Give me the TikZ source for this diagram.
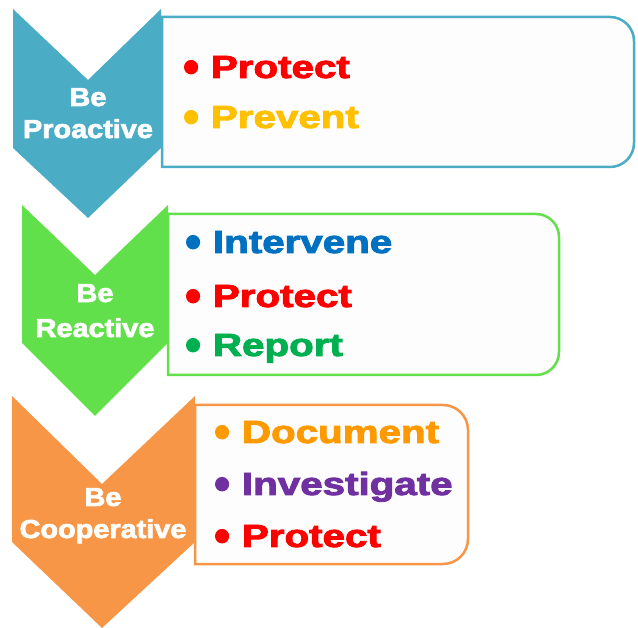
\documentclass[tikz,border=0pt]{standalone}
\usepackage{fontspec}
\setmainfont{Liberation Sans}
\newfontfamily\heavy{Liberation Sans}[BoldFont={Liberation Sans Bold},BoldFeatures={FakeBold=2.5}]
\definecolor{cblue}{HTML}{4BACC6}
\definecolor{cgreen}{HTML}{62E04B}
\definecolor{corange}{HTML}{F79646}
\definecolor{tred}{HTML}{FF0000}
\definecolor{tyellow}{HTML}{FFC000}
\definecolor{tblue}{HTML}{0070C0}
\definecolor{tgreen}{HTML}{00B050}
\definecolor{torange}{HTML}{FF9900}
\definecolor{tpurple}{HTML}{7030A0}
\definecolor{boxfill}{HTML}{FDFDFD}
\newcommand{\lbl}[1]{\scalebox{1.11}[1]{\fontsize{26}{30}\selectfont\heavy\bfseries #1}}
\newcommand{\itm}[1]{\scalebox{1.26}[1]{\fontsize{32}{36}\selectfont\heavy\bfseries\raisebox{-4.5pt}{\scalebox{1.12}[1.45]{\textbullet}}\hspace{9.5pt}#1}}
\tikzset{
  panel/.style={fill=boxfill, line width=2.5pt},
  lbltext/.style={anchor=base, inner sep=0pt, text=white},
  itmtext/.style={anchor=base west, inner sep=0pt}
}
\begin{document}
\begin{tikzpicture}[x=1pt,y=-1pt]
\useasboundingbox (0,0) rectangle (638,628);
% boxes
\draw[panel, draw=cblue] (162,17) -- (610,17) arc[start angle=-90,end angle=0,radius=24] -- (634,143) arc[start angle=0,end angle=90,radius=24] -- (162,167) -- cycle;
\draw[panel, draw=cgreen] (168,214) -- (536,214) arc[start angle=-90,end angle=0,radius=23] -- (559,352) arc[start angle=0,end angle=90,radius=23] -- (168,375) -- cycle;
\draw[panel, draw=corange] (195,405) -- (443,405) arc[start angle=-90,end angle=0,radius=25] -- (468,539) arc[start angle=0,end angle=90,radius=25] -- (195,564) -- cycle;
% chevrons
\fill[cblue] (13,9) -- (88,80) -- (161,9) -- (161,148) -- (88,218) -- (13,148) -- cycle;
\fill[cgreen] (22,205) -- (95,275) -- (168,205) -- (168,343) -- (95,416) -- (22,343) -- cycle;
\fill[corange] (12,396) -- (102,484) -- (195,396) -- (195,542) -- (102,628) -- (12,542) -- cycle;
% chevron labels
\node[lbltext] (l1a) at (88,106) {\lbl{Be}};
\node[lbltext] (l1b) at (88,138) {\lbl{Proactive}};
\node[lbltext] (l2a) at (95,302) {\lbl{Be}};
\node[lbltext] (l2b) at (95,337) {\lbl{Reactive}};
\node[lbltext] (l3a) at (103,506) {\lbl{Be}};
\node[lbltext] (l3b) at (103,538) {\lbl{Cooperative}};
% items
\node[itmtext, text=tred] (i1a) at (183,78) {\itm{Protect}};
\node[itmtext, text=tyellow] (i1b) at (183,128) {\itm{Prevent}};
\node[itmtext, text=tblue] (i2a) at (185,253) {\itm{Intervene}};
\node[itmtext, text=tred] (i2b) at (185,307) {\itm{Protect}};
\node[itmtext, text=tgreen] (i2c) at (185,356) {\itm{Report}};
\node[itmtext, text=torange] (i3a) at (214,443) {\itm{Document}};
\node[itmtext, text=tpurple] (i3b) at (214,495) {\itm{Investigate}};
\node[itmtext, text=tred] (i3c) at (214,547) {\itm{Protect}};
\end{tikzpicture}
\end{document}
